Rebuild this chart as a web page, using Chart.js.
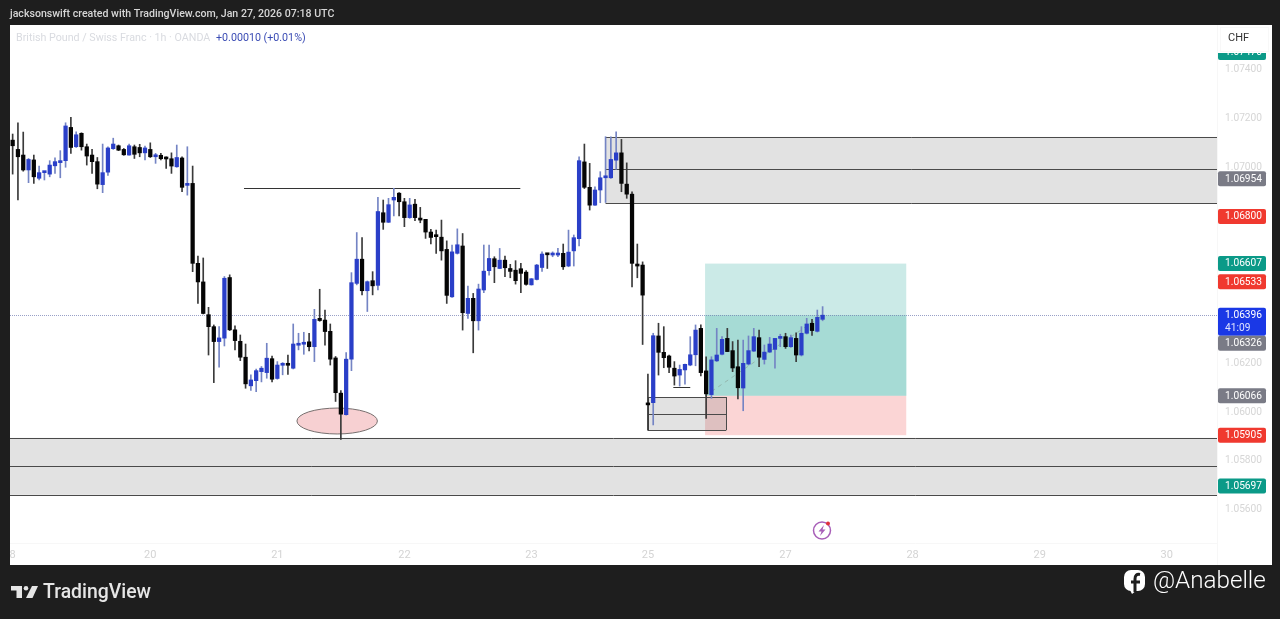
<!DOCTYPE html>
<html><head><meta charset="utf-8">
<style>html,body{margin:0;padding:0;background:#1e1e1e;overflow:hidden}canvas{display:block}</style>
<script src="https://cdn.jsdelivr.net/npm/chart.js@4"></script>
</head><body><canvas id="c" width="1280" height="619"></canvas>
<script>
const opens=[
1.07112,1.07074,1.07051,1.06990,1.07031,1.06956,1.06979,1.06973,1.07007,1.07020,
1.07028,1.07164,1.07085,1.07140,1.07085,1.07051,1.07024,1.06930,1.06981,1.07077,
1.07089,1.07074,1.07051,1.07085,1.07082,1.07060,1.07074,1.07044,1.07050,1.07039,
1.07036,1.07003,1.07039,1.06927,1.06935,1.06608,1.06532,1.06398,1.06349,1.06288,
1.06302,1.06550,1.06336,1.06289,1.06224,1.06107,1.06128,1.06165,1.06161,1.06218,
1.06137,1.06191,1.06197,1.06179,1.06273,1.06277,1.06287,1.06267,1.06383,1.06376,
1.06330,1.06221,1.06077,1.05989,1.06216,1.06526,1.06625,1.06496,1.06537,1.06518,
1.06815,1.06776,1.06867,1.06895,1.06860,1.06795,1.06850,1.06792,1.06788,1.06736,
1.06719,1.06715,1.06665,1.06471,1.06649,1.06679,1.06403,1.06465,1.06373,1.06499,
1.06578,1.06627,1.06587,1.06621,1.06587,1.06580,1.06586,1.06572,1.06520,1.06542,
1.06591,1.06646,1.06642,1.06642,1.06649,1.06597,1.06659,1.06709,1.07023,1.06919,
1.06846,1.06908,1.06958,1.06958,1.07030,1.07060,1.06932,1.06891,1.06605,1.06601,
1.06035,1.06038,1.06311,1.06244,1.06229,1.06179,1.06151,1.06172,1.06192,1.06234,
1.06342,1.06168,1.06071,1.06209,1.06236,1.06301,1.06251,1.06185,1.06098,1.06196,
1.06249,1.06304,1.06215,1.06245,1.06256,1.06301,1.06308,1.06267,1.06301,1.06233,
1.06322,1.06363,1.06330,1.06379];
const closes=[
1.07089,1.07044,1.06990,1.07033,1.06962,1.06979,1.06981,1.07010,1.07024,1.07028,
1.07170,1.07082,1.07134,1.07085,1.07047,1.07024,1.06932,1.06979,1.07080,1.07096,
1.07071,1.07052,1.07089,1.07054,1.07060,1.07080,1.07044,1.07051,1.07036,1.07035,
1.07006,1.07041,1.06919,1.06935,1.06608,1.06532,1.06403,1.06349,1.06288,1.06303,
1.06547,1.06336,1.06292,1.06224,1.06115,1.06131,1.06169,1.06179,1.06220,1.06134,
1.06192,1.06197,1.06191,1.06278,1.06278,1.06285,1.06267,1.06379,1.06374,1.06329,
1.06216,1.06079,1.05991,1.06216,1.06529,1.06625,1.06496,1.06533,1.06516,1.06820,
1.06776,1.06848,1.06878,1.06860,1.06795,1.06847,1.06795,1.06785,1.06736,1.06714,
1.06717,1.06659,1.06477,1.06655,1.06684,1.06406,1.06465,1.06373,1.06503,1.06576,
1.06628,1.06594,1.06621,1.06590,1.06575,1.06537,1.06567,1.06522,1.06545,1.06601,
1.06646,1.06643,1.06644,1.06649,1.06594,1.06654,1.06713,1.07028,1.06919,1.06846,
1.06908,1.06958,1.06966,1.07033,1.07060,1.06935,1.06891,1.06608,1.06597,1.06478,
1.06029,1.06312,1.06244,1.06222,1.06183,1.06147,1.06174,1.06195,1.06234,1.06335,
1.06161,1.06074,1.06213,1.06233,1.06297,1.06247,1.06180,1.06099,1.06199,1.06251,
1.06308,1.06224,1.06245,1.06278,1.06301,1.06304,1.06267,1.06304,1.06233,1.06322,
1.06360,1.06333,1.06387,1.06396];
const highs=[
1.07137,1.07183,1.07145,1.07037,1.07051,1.07006,1.06981,1.07028,1.07040,1.07069,
1.07183,1.07205,1.07146,1.07142,1.07096,1.07074,1.07041,1.07096,1.07085,1.07120,
1.07092,1.07078,1.07096,1.07092,1.07095,1.07088,1.07101,1.07058,1.07058,1.07044,
1.07060,1.07092,1.07044,1.07085,1.07006,1.06638,1.06630,1.06428,1.06356,1.06349,
1.06554,1.06561,1.06352,1.06315,1.06278,1.06152,1.06175,1.06186,1.06281,1.06229,
1.06206,1.06202,1.06233,1.06360,1.06322,1.06326,1.06322,1.06420,1.06502,1.06417,
1.06360,1.06227,1.06088,1.06243,1.06570,1.06734,1.06713,1.06536,1.06574,1.06878,
1.06867,1.06874,1.06915,1.06897,1.06874,1.06874,1.06870,1.06837,1.06788,1.06747,
1.06744,1.06785,1.06700,1.06683,1.06749,1.06730,1.06515,1.06485,1.06523,1.06683,
1.06683,1.06635,1.06669,1.06638,1.06604,1.06619,1.06608,1.06578,1.06546,1.06604,
1.06655,1.06646,1.06655,1.06669,1.06687,1.06744,1.06724,1.07044,1.07096,1.07017,
1.06921,1.06983,1.07126,1.07126,1.07146,1.07115,1.07019,1.06901,1.06687,1.06614,
1.06155,1.06322,1.06363,1.06349,1.06233,1.06206,1.06192,1.06196,1.06308,1.06356,
1.06356,1.06226,1.06226,1.06342,1.06308,1.06342,1.06288,1.06294,1.06294,1.06311,
1.06342,1.06335,1.06274,1.06305,1.06301,1.06318,1.06322,1.06315,1.06324,1.06349,
1.06383,1.06379,1.06417,1.06431];
const lows=[
1.06973,1.06867,1.06985,1.06938,1.06935,1.06949,1.06949,1.06962,1.06976,1.06958,
1.07001,1.07058,1.07082,1.07071,1.07010,1.06976,1.06913,1.06897,1.06968,1.07074,
1.07069,1.07050,1.07050,1.07037,1.07044,1.07031,1.07041,1.07017,1.07031,1.06996,
1.06976,1.07001,1.06901,1.06887,1.06574,1.06444,1.06401,1.06233,1.06120,1.06183,
1.06270,1.06333,1.06254,1.06210,1.06097,1.06088,1.06083,1.06123,1.06138,1.06123,
1.06134,1.06152,1.06154,1.06176,1.06254,1.06236,1.06250,1.06206,1.06371,1.06273,
1.06192,1.06043,1.05888,1.05987,1.06169,1.06520,1.06479,1.06411,1.06479,1.06499,
1.06747,1.06775,1.06802,1.06802,1.06758,1.06792,1.06783,1.06774,1.06710,1.06687,
1.06649,1.06621,1.06444,1.06469,1.06646,1.06335,1.06383,1.06242,1.06335,1.06488,
1.06560,1.06529,1.06586,1.06553,1.06549,1.06523,1.06488,1.06519,1.06519,1.06540,
1.06575,1.06587,1.06635,1.06635,1.06583,1.06594,1.06597,1.06679,1.06914,1.06826,
1.06845,1.06856,1.06857,1.06955,1.06992,1.06901,1.06874,1.06512,1.06549,1.06276,
1.05926,1.05947,1.06151,1.06181,1.06161,1.06110,1.06106,1.06114,1.06189,1.06189,
1.06147,1.05974,1.06056,1.06206,1.06233,1.06247,1.06165,1.06053,1.06005,1.06192,
1.06247,1.06185,1.06196,1.06243,1.06179,1.06267,1.06260,1.06264,1.06206,1.06229,
1.06319,1.06313,1.06327,1.06373];

const slotCount=228;
const dayTickSlots=[0,26,50,74,98,120,146,170,194,218];
const dayTickText=['8','20','21','22','23','25','27','28','29','30'];
const priceTicks=[1.074,1.072,1.07,1.062,1.06,1.058,1.056];
const priceMin=1.05464, priceMax=1.07583;

const tagPrices=[1.07470,1.06954,1.06800,1.06607,1.06533,1.06396,1.06326,1.06066,1.05905,1.05697];
const tagKinds=['teal','grey','red','teal','red','blue','grey','grey','red','teal'];
const tagFill={teal:'#0b9a88',grey:'#7a7b86',red:'#f0392f',blue:'#1a38e6'};
const countdownText='41:09';

const upperZone=[1.07125,1.06994,1.06855];
const lowerZone=[1.05894,1.05779,1.05661];
const smallZone=[1.06061,1.05993,1.05926];
const upperZoneStart=112, smallZoneSlots=[120,134.8];
const trade={from:130.8,to:168.8,target:1.06607,entry:1.06066,stop:1.05905,last:1.06396};
const swingLine={from:43.7,to:95.9,price:1.06916};
const miniLine={from:124.8,to:128,price:1.06103};
const circleMark={from:53.7,to:68.9,top:1.06016,bottom:1.05910};
const lastSlot=153;

const BLUE='#2a3fc8', BLACK='#050505', BLUE_WICK='#7484c4', BLACK_WICK='#3a3a3a';
const isUp=i=>closes[i]>=opens[i];
const labels=Array.from({length:slotCount},(_,i)=>{const k=dayTickSlots.indexOf(i);return k>=0?dayTickText[k]:'';});
const FONT='Roboto, "Open Sans", sans-serif';

const drawBack={id:'drawBack',beforeDraw(c){const g=c.ctx;
  g.save();g.fillStyle='#1e1e1e';g.fillRect(0,0,1280,619);
  g.fillStyle='#ffffff';g.fillRect(10,25,1262,540);
  g.strokeStyle='#f7f7f7';g.lineWidth=1;g.beginPath();
  g.moveTo(1217.5,25);g.lineTo(1217.5,565);g.moveTo(10,543.5);g.lineTo(1217,543.5);g.stroke();
  g.restore();}};

const overlays={id:'overlays',beforeDatasetsDraw(c){
  const g=c.ctx,X=c.scales.x,Y=c.scales.y,A=c.chartArea;
  const px=v=>X.getPixelForValue(v),py=v=>Y.getPixelForValue(v);
  const crisp=v=>Math.round(v)+.5;
  g.save();g.beginPath();g.rect(A.left,A.top,A.right-A.left,A.bottom-A.top);g.clip();
  // closed trade block
  const tx0=px(trade.from),tx1=px(trade.to);
  g.fillStyle='#cbeae7';g.fillRect(tx0,py(trade.target),tx1-tx0,py(trade.entry)-py(trade.target));
  g.fillStyle='#a6dbd5';g.fillRect(tx0,py(trade.last),tx1-tx0,py(trade.entry)-py(trade.last));
  g.fillStyle='#fbd5d5';g.fillRect(tx0,py(trade.entry),tx1-tx0,py(trade.stop)-py(trade.entry));
  // zones
  function zone(x0,x1,p){
    g.fillStyle='rgba(110,110,110,0.2)';g.fillRect(x0,py(p[0]),x1-x0,py(p[2])-py(p[0]));
    g.strokeStyle='#4a4a4a';g.lineWidth=1;g.beginPath();
    p.forEach(v=>{g.moveTo(x0,crisp(py(v)));g.lineTo(x1,crisp(py(v)));});g.stroke();
  }
  zone(px(upperZoneStart),A.right,upperZone);
  zone(A.left,A.right,lowerZone);
  const sx0=px(smallZoneSlots[0]),sx1=px(smallZoneSlots[1]);
  zone(sx0,sx1,smallZone);
  g.strokeStyle='#4a4a4a';g.beginPath();
  [sx0,sx1].forEach(x=>{g.moveTo(crisp(x),py(smallZone[0]));g.lineTo(crisp(x),py(smallZone[2]));});g.stroke();
  // swing lines
  g.strokeStyle='#333';g.lineWidth=1;g.beginPath();
  [swingLine,miniLine].forEach(l=>{g.moveTo(px(l.from),crisp(py(l.price)));g.lineTo(px(l.to),crisp(py(l.price)));});g.stroke();
  // dashed trade path
  g.strokeStyle='rgba(140,170,160,0.75)';g.setLineDash([4,4]);g.beginPath();
  g.moveTo(tx0,py(trade.entry));g.lineTo(px(lastSlot),py(trade.last));g.stroke();g.setLineDash([]);
  // last-price line
  g.strokeStyle='rgba(110,120,175,0.7)';g.setLineDash([1,1]);g.beginPath();
  g.moveTo(A.left,crisp(py(trade.last)));g.lineTo(A.right,crisp(py(trade.last)));g.stroke();g.setLineDash([]);
  // circled low
  const cx=(px(circleMark.from)+px(circleMark.to))/2,rx=(px(circleMark.to)-px(circleMark.from))/2;
  const cy=(py(circleMark.top)+py(circleMark.bottom))/2,ry=(py(circleMark.bottom)-py(circleMark.top))/2;
  g.fillStyle='#f7d0d2';g.strokeStyle='#77706f';g.lineWidth=1;g.beginPath();g.ellipse(cx,cy,rx,ry,0,0,Math.PI*2);g.fill();g.stroke();
  g.restore();
}};

const chrome={id:'chrome',afterDraw(c){
  const g=c.ctx,Y=c.scales.y;
  g.save();g.textBaseline='middle';g.textAlign='left';
  // price tags
  let bottom=-1e9;
  tagPrices.forEach((p,i)=>{
    const py=Y.getPixelForValue(p),isBlue=tagKinds[i]==='blue',h=isBlue?28:15;
    let top=py-7.5;
    if(top<bottom)top=bottom;
    g.fillStyle=tagFill[tagKinds[i]];g.beginPath();g.roundRect(1218,top,48,h,2);g.fill();
    g.fillStyle='#ffffff';g.font='10.2px '+FONT;
    g.fillText(p.toFixed(5),1225,top+7.8);
    if(isBlue){g.fillStyle='#dfe3ff';g.fillText(countdownText,1225,top+21);}
    bottom=top+h;
  });
  // currency box
  g.fillStyle='#ffffff';g.fillRect(1218,26,53,27);
  g.strokeStyle='#f8f8f8';g.lineWidth=1;g.strokeRect(1220.5,27.5,48,24);
  g.fillStyle='#333';g.font='11px '+FONT;g.fillText('CHF',1228,38.5);
  // header + legend
  g.fillStyle='#d6d6d6';g.font='500 10.6px '+FONT;g.fillText('jacksonswift created with TradingView.com, Jan 27, 2026 07:18 UTC',10,14.5);
  g.fillStyle='#d9dbe0';g.font='10.7px '+FONT;g.fillText('British Pound / Swiss Franc · 1h · OANDA',16,38);
  g.fillStyle='#3a4bb4';g.font='10.7px '+FONT;g.fillText('+0.00010 (+0.01%)',216,38);
  // event marker
  g.strokeStyle='#a85fb8';g.lineWidth=1.5;g.beginPath();g.arc(822,530.5,8.5,0,Math.PI*2);g.stroke();
  g.fillStyle='#a85fb8';g.beginPath();g.moveTo(824,525);g.lineTo(818.5,531.5);g.lineTo(821.5,531.5);g.lineTo(820,536);g.lineTo(825.5,529.5);g.lineTo(822.5,529.5);g.closePath();g.fill();
  g.fillStyle='#e0303a';g.beginPath();g.arc(828,523.5,2,0,Math.PI*2);g.fill();
  // TradingView logo
  g.fillStyle='#e6e6e6';
  g.fillRect(11,586,11,4.5);g.fillRect(16.5,586,5.5,12);
  g.beginPath();g.arc(26,588.2,2.3,0,Math.PI*2);g.fill();
  g.beginPath();g.moveTo(32,586);g.lineTo(38,586);g.lineTo(32.5,598);g.lineTo(26,598);g.closePath();g.fill();
  g.font='500 19.4px '+FONT;g.fillText('TradingView',43,593.5);
  // Facebook badge + handle
  g.fillStyle='#ffffff';g.beginPath();g.roundRect(1124,570,21,21,7);g.fill();
  g.beginPath();g.moveTo(1130,590);g.lineTo(1132,594);g.lineTo(1137,590);g.closePath();g.fill();
  g.strokeStyle='#1e1e1e';g.lineWidth=3;g.beginPath();g.moveTo(1140,574.5);g.quadraticCurveTo(1135,573.5,1135,579);g.lineTo(1135,592);g.moveTo(1131,582);g.lineTo(1140,582);g.stroke();
  g.fillStyle='#ffffff';g.font='300 24.2px '+FONT;g.fillText('@Anabelle',1153,581.5);
  g.restore();
}};

new Chart(document.getElementById('c'),{
  type:'bar',
  data:{labels,datasets:[
    {label:'wicks',data:highs.map((h,i)=>[lows[i],h]),grouped:false,barThickness:1,
     backgroundColor:highs.map((_,i)=>isUp(i)?BLUE_WICK:BLACK_WICK),order:2},
    {label:'bodies',data:opens.map((o,i)=>[Math.min(o,closes[i]),Math.max(o,closes[i])]),grouped:false,barThickness:3.6,minBarLength:2,
     backgroundColor:opens.map((_,i)=>isUp(i)?BLUE:BLACK),order:1}
  ]},
  options:{
    responsive:false,animation:false,devicePixelRatio:1,
    layout:{padding:{left:10,top:25,right:8,bottom:54}},
    plugins:{legend:{display:false},tooltip:{enabled:false}},
    scales:{
      x:{type:'category',offset:true,grid:{display:false,drawTicks:false},border:{display:false},
        afterFit:s=>{s.height=22;},
        ticks:{autoSkip:false,maxRotation:0,minRotation:0,padding:6,color:'#d4d4d4',font:{family:FONT,size:11},
          callback:(v,i)=>labels[i]}},
      y:{type:'linear',position:'right',min:priceMin,max:priceMax,grid:{display:false,drawTicks:false},border:{display:false},
        afterFit:s=>{s.width=55;},
        afterBuildTicks:s=>{s.ticks=priceTicks.map(v=>({value:v}));},
        ticks:{padding:8,color:'#d6d6d6',font:{family:FONT,size:10.2},callback:v=>v.toFixed(5)}}
    }
  },
  plugins:[drawBack,overlays,chrome]
});
</script></body></html>
